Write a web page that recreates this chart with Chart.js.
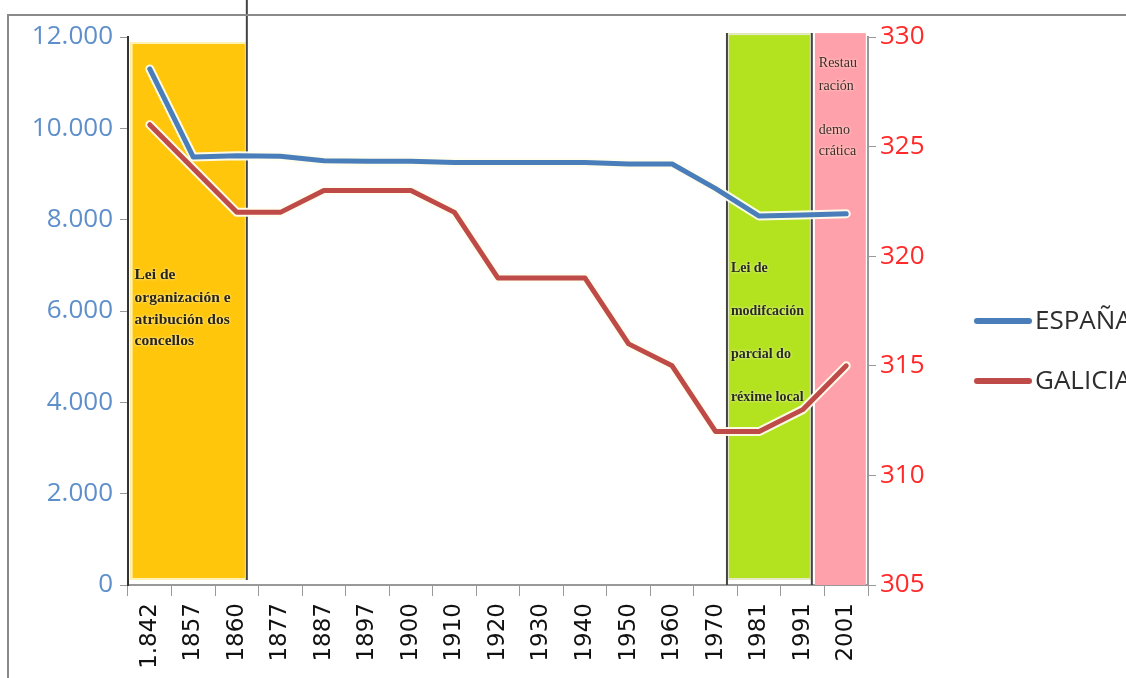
<!DOCTYPE html>
<html><head><meta charset="utf-8">
<script src="https://cdn.jsdelivr.net/npm/chart.js@4"></script>
<style>html,body{margin:0;padding:0;background:#fff}#wrap{width:1126px;height:678px;position:relative}</style>
</head><body><div id="wrap"><canvas id="c" width="1126" height="678"></canvas></div>
<script>
// ---- data ----
const years = ['1.842','1857','1860','1877','1887','1897','1900','1910','1920','1930','1940','1950','1960','1970','1981','1991','2001'];
const espana = [11300, 9370, 9400, 9390, 9290, 9280, 9280, 9250, 9250, 9250, 9250, 9220, 9220, 8680, 8080, 8100, 8130];
const galicia = [326, 324, 322, 322, 323, 323, 323, 322, 319, 319, 319, 316, 315, 312, 312, 313, 315];
const seriesNames = ['ESPAÑA', 'GALICIA'];
const leftRange = [0, 12000, 2000];
const rightRange = [305, 330, 5];
const bandTexts = {
  yellow: ['Lei de', 'organización e', 'atribución dos', 'concellos'],
  green: ['Lei de', 'modifcación', 'parcial do', 'réxime local'],
  pink: ['Restau', 'ración', '', 'demo', 'crática']
};

const fmt = v => String(v).replace(/\B(?=(\d{3})+(?!\d))/g, '.');

// band annotations (x in category-index units, y in left-axis units)
const bands = [
  {from: -0.44, to: 2.23, top: 11890, bottom: 110, fill: '#FFC60B', edge: '#FFF3B8',
   lines: [{at: 2.23, top: 12810, bottom: 110}], text: 'yellow', tx: -0.35, ty: [275, 298, 320, 341],
   font: 'bold 15.5px "Liberation Serif", serif', color: '#2a2418'},
  {from: 13.26, to: 15.21, top: 12085, bottom: 110, fill: '#B3E21E', edge: '#E6E9C8',
   lines: [{at: 13.26, top: 12085, bottom: 0}, {at: 15.21, top: 12085, bottom: 0}], text: 'green', tx: 13.35, ty: [268, 311, 354, 397],
   font: 'bold 14px "Liberation Serif", serif', color: '#2a2a22'},
  {from: 15.28, to: 16.45, top: 12085, bottom: 0, fill: '#FFA1AB', edge: null,
   lines: [], text: 'pink', tx: 15.37, ty: [63, 86, 108, 130, 151],
   font: '14px "Liberation Serif", serif', color: '#3d2a2a'}
];

const bandPlugin = {
  id: 'bands',
  beforeDatasetsDraw(chart) {
    const ctx = chart.ctx, x = chart.scales.x, y = chart.scales.y;
    const x0 = x.getPixelForValue(0), step = x.getPixelForValue(1) - x0;
    const px = i => x0 + i * step;
    ctx.save();
    bands.forEach(b => {
      const l = px(b.from), r = px(b.to), t = y.getPixelForValue(b.top), bt = y.getPixelForValue(b.bottom);
      ctx.fillStyle = b.fill;
      ctx.fillRect(l, t, r - l, bt - t);
      if (b.edge) {
        ctx.strokeStyle = b.edge; ctx.lineWidth = 2;
        ctx.strokeRect(l + 1, t + 1, r - l - 2, bt - t - 2);
      }
      b.lines.forEach(ln => {
        ctx.strokeStyle = '#444'; ctx.lineWidth = 2;
        ctx.beginPath();
        ctx.moveTo(px(ln.at), y.getPixelForValue(ln.top));
        ctx.lineTo(px(ln.at), y.getPixelForValue(ln.bottom));
        ctx.stroke();
      });
      ctx.font = b.font; ctx.fillStyle = b.color;
      ctx.textAlign = 'left'; ctx.textBaseline = 'middle';
      ctx.shadowColor = 'rgba(255,255,225,0.95)'; ctx.shadowBlur = 3;
      bandTexts[b.text].forEach((s, k) => { if (s) ctx.fillText(s, px(b.tx), b.ty[k]); });
      ctx.shadowBlur = 0;
    });
    ctx.restore();
  },
  afterDraw(chart) {
    const ctx = chart.ctx;
    ctx.save();
    // outer frame
    ctx.strokeStyle = '#8a8a8a'; ctx.lineWidth = 2;
    ctx.beginPath(); ctx.moveTo(8, 678); ctx.lineTo(8, 15); ctx.lineTo(1126, 15); ctx.stroke();
    // legend
    const ds = chart.data.datasets.filter(d => !d.halo);
    ds.forEach((d, k) => {
      const yy = 321 + k * 60;
      ctx.strokeStyle = d.borderColor; ctx.lineWidth = 6; ctx.lineCap = 'round';
      ctx.beginPath(); ctx.moveTo(977, yy); ctx.lineTo(1029, yy); ctx.stroke();
      ctx.fillStyle = '#2e2e2e'; ctx.font = '26px "Open Sans", sans-serif';
      ctx.textAlign = 'left'; ctx.textBaseline = 'middle';
      ctx.fillText(d.label, 1035, yy + 1);
    });
    ctx.restore();
  }
};

const lineOpts = {pointRadius: 0, tension: 0, borderJoinStyle: 'round', borderCapStyle: 'round'};
new Chart(document.getElementById('c'), {
  type: 'line',
  data: {
    labels: years,
    datasets: [
      Object.assign({label: seriesNames[0], data: espana, borderColor: '#4A7EBB', borderWidth: 5, yAxisID: 'y', order: 1}, lineOpts),
      Object.assign({label: seriesNames[1], data: galicia, borderColor: '#BE4B48', borderWidth: 5, yAxisID: 'y1', order: 1}, lineOpts),
      Object.assign({label: 'h1', halo: true, data: espana, borderColor: 'rgba(255,254,238,0.95)', borderWidth: 9, yAxisID: 'y', order: 2}, lineOpts),
      Object.assign({label: 'h2', halo: true, data: galicia, borderColor: 'rgba(255,254,238,0.95)', borderWidth: 9, yAxisID: 'y1', order: 2}, lineOpts)
    ]
  },
  options: {
    responsive: false, animation: false,
    layout: {padding: {top: 37, left: 0, right: 0, bottom: 0}, autoPadding: false},
    plugins: {legend: {display: false}, tooltip: {enabled: false}, title: {display: false}},
    scales: {
      x: {
        type: 'category', offset: true,
        grid: {offset: true, drawOnChartArea: false, drawTicks: true, tickLength: 11, color: '#999', tickColor: '#999'},
        border: {color: '#999', width: 2},
        ticks: {autoSkip: false, minRotation: 90, maxRotation: 90, padding: 7, color: '#111', font: {family: 'DejaVu Sans', size: 23}},
        afterFit(s) { s.height = 93; }
      },
      y: {
        position: 'left', min: leftRange[0], max: leftRange[1],
        grid: {drawOnChartArea: false, drawTicks: true, tickLength: 8, tickColor: '#999'},
        border: {color: '#333', width: 2},
        ticks: {stepSize: leftRange[2], padding: 7, color: '#5E8FCB', font: {family: 'Open Sans', size: 26}, callback: v => fmt(v)},
        afterFit(s) { s.width = 128; }
      },
      y1: {
        position: 'right', min: rightRange[0], max: rightRange[1],
        grid: {drawOnChartArea: false, drawTicks: true, tickLength: 8, tickColor: '#999'},
        border: {color: '#999', width: 2},
        ticks: {stepSize: rightRange[2], padding: 4, color: '#FF2A2A', font: {family: 'Open Sans', size: 26}},
        afterFit(s) { s.width = 258; }
      }
    }
  },
  plugins: [bandPlugin]
});
</script></body></html>
